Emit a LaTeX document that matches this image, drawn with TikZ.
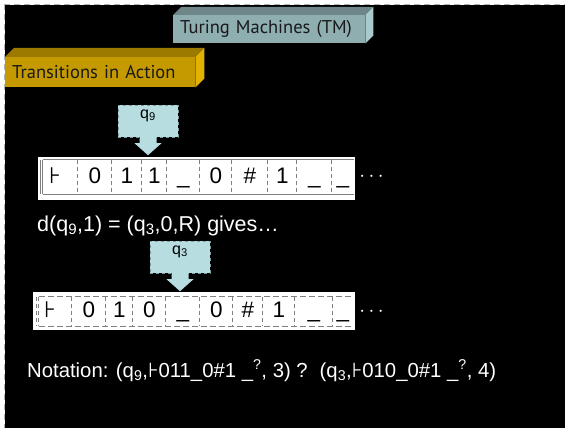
\documentclass[tikz,border=0pt]{standalone}
\usepackage{fontspec}
\setmainfont{Liberation Sans}
\newfontfamily\headfont{PT Sans}
\newfontfamily\symfont{DejaVu Sans}
\usepackage{tikz}
\usetikzlibrary{positioning}

\definecolor{tealfront}{HTML}{8EAEB0}
\definecolor{tealtop}{HTML}{6E8688}
\definecolor{tealside}{HTML}{A9CACC}
\definecolor{goldfront}{HTML}{C49A00}
\definecolor{goldtop}{HTML}{9C7A00}
\definecolor{goldside}{HTML}{E2B200}
\definecolor{callblue}{HTML}{B7DDE0}
\definecolor{callgray}{HTML}{7F9C9E}
\definecolor{tapegray}{HTML}{808080}

\begin{document}
\begin{tikzpicture}[x=1pt, y=-1pt,
    heading/.style={anchor=north west, inner xsep=7pt, inner ysep=0pt, align=left,
      text width=178pt, text=black!90, font=\headfont\fontsize{18.5}{18.5}\selectfont},
    callout/.style={fill=callblue, draw=callgray, dashed, minimum width=60pt,
      minimum height=32pt, inner sep=0pt, text height=8pt, text depth=14pt,
      font=\fontsize{16}{16}\selectfont},
    cell/.style={inner sep=0pt, minimum height=#1, text height=16pt, text depth=4pt,
      font=\fontsize{22.5}{22.5}\selectfont},
    tapeline/.style={draw=tapegray, line width=0.8pt},
    dots/.style={inner sep=0pt, text=white, font=\fontsize{21}{21}\selectfont},
    textline/.style={anchor=base west, inner sep=0pt, text=white}]

    \useasboundingbox (0,0) rectangle (565,428);
    \fill[white] (0,0) rectangle (565,428);
    \fill[black] (5,5) rectangle (565,428);
    \draw[gray!60, dash pattern=on 6pt off 4pt] (4,4) -- (565,4);
    \draw[gray!60, dash pattern=on 6pt off 4pt] (4,4) -- (4,428);

    % headings
    \node[heading, fill=tealfront, minimum width=192pt, minimum height=28pt]
      (title) at (173,15) {Turing Machines (TM)};
    \fill[tealtop] (title.north west) -- ++(8,-8) -- ([shift={(8,-8)}]title.north east)
      -- (title.north east) -- cycle;
    \fill[tealside] (title.north east) -- ++(8,-8) -- ([shift={(8,-8)}]title.south east)
      -- (title.south east) -- cycle;

    \node[heading, fill=goldfront, minimum width=190pt, minimum height=30pt, text width=176pt]
      (topic) at (5,57) {Transitions in Action};
    \fill[goldtop] (topic.north west) -- ++(9,-9) -- ([shift={(9,-9)}]topic.north east)
      -- (topic.north east) -- cycle;
    \fill[goldside] (topic.north east) -- ++(9,-9) -- ([shift={(9,-9)}]topic.south east)
      -- (topic.south east) -- cycle;

    % first tape
    \fill[white] (38,157) rectangle (355,200);
    \foreach \l/\r/\t [count=\i] in {43/78/{{\symfont ⊦}\hspace*{11pt}}, 78/112/0, 112/142/1,
        142/167/1, 167/200/\_, 200/232/0, 232/268/\#, 268/297/1, 297/332/\_, 332/354/\_}
      \node[cell=34pt, minimum width=\r-\l] (tapeA-\i) at ({(\l+\r)/2},177) {\t};
    \draw[tapeline] (tapeA-1.north west) -- (tapeA-10.north east);
    \draw[tapeline] (tapeA-1.south west) -- (tapeA-10.south east);
    \draw[tapeline] ([xshift=-2.5pt]tapeA-1.north west) -- ([xshift=-2.5pt]tapeA-1.south west);
    \draw[tapeline] (tapeA-1.north west) -- (tapeA-1.south west);
    \foreach \i in {2,...,10}
      \draw[tapeline, dash pattern=on 4pt off 3pt] (tapeA-\i.north west) -- (tapeA-\i.south west);
    \node[dots, right=5pt of tapeA-10] (dotsA) {$\cdots$};

    \node[callout] (headA) at (148,121) {q\textsubscript{9}};
    \fill[callblue] ([xshift=-8.5pt]headA.south) -- ++(0,6) -- ++(-5,0) -- ++(13.5,12)
      -- ++(13.5,-12) -- ++(-5,0) -- ++(0,-6) -- cycle;

    \node[textline, font=\fontsize{21.5}{21.5}\selectfont] (rule) at (37,231)
      {d(q\textsubscript{9},1) = (q\textsubscript{3},0,R) gives…};

    % second tape
    \fill[white] (33,292) rectangle (355,330);
    \foreach \l/\r/\t [count=\i] in {39/72/{{\symfont ⊦}\hspace*{11pt}}, 72/106/0, 106/133/1,
        133/166/0, 166/200/\_, 200/233/0, 233/263/\#, 263/295/1, 295/333/\_, 333/353/\_}
      \node[cell=29pt, minimum width=\r-\l] (tapeB-\i) at ({(\l+\r)/2},311.5) {\t};
    \draw[tapeline, dash pattern=on 6pt off 3pt] (tapeB-1.north west) -- (tapeB-10.north east);
    \draw[tapeline, dash pattern=on 6pt off 3pt] (tapeB-1.south west) -- (tapeB-10.south east);
    \draw[tapeline, dash pattern=on 4pt off 3pt] ([xshift=-2.5pt]tapeB-1.north west)
      -- ([xshift=-2.5pt]tapeB-1.south west);
    \foreach \i in {1,...,10}
      \draw[tapeline, dash pattern=on 4pt off 3pt] (tapeB-\i.north west) -- (tapeB-\i.south west);
    \node[dots, right=6pt of tapeB-10] (dotsB) {$\cdots$};

    \node[callout] (headB) at (180,257) {q\textsubscript{3}};
    \fill[callblue] ([xshift=-8.5pt]headB.south) -- ++(0,6) -- ++(-5,0) -- ++(13.5,12)
      -- ++(13.5,-12) -- ++(-5,0) -- ++(0,-6) -- cycle;

    \node[textline, font=\fontsize{20.3}{20.3}\selectfont] (notation) at (27,377)
      {Notation: (q\textsubscript{9},{\symfont ⊦}011\_0\#1 \_\textsuperscript{?}, 3) ?\hspace{12pt}(q\textsubscript{3},{\symfont ⊦}010\_0\#1 \_\textsuperscript{?}, 4)};
\end{tikzpicture}
\end{document}
